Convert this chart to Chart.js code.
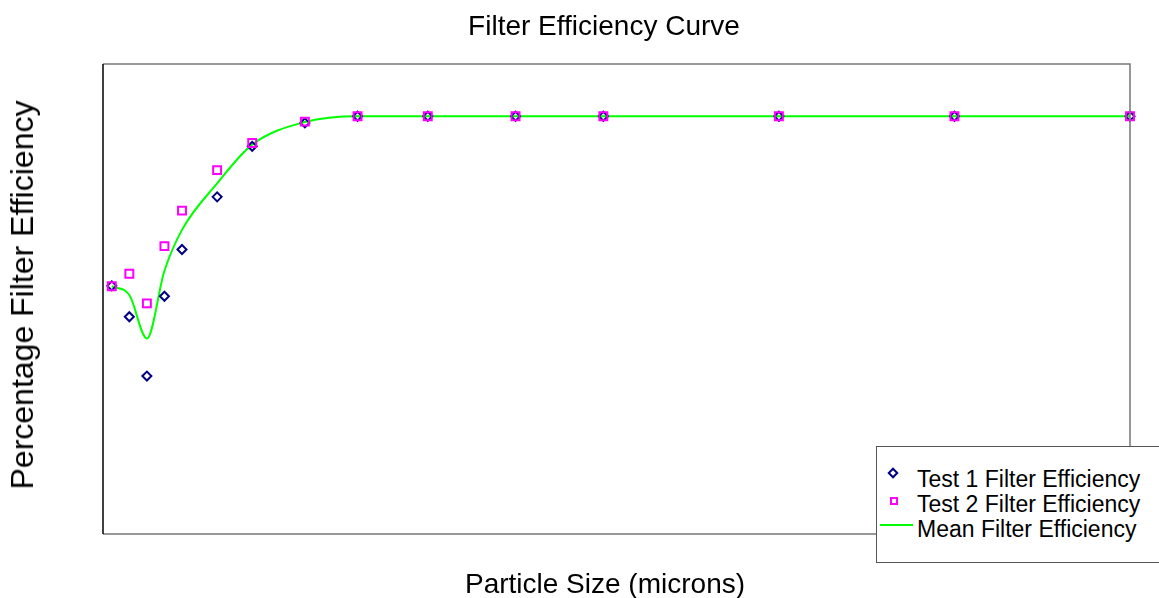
<!DOCTYPE html>
<html lang="en">
<head>
    <meta charset="UTF-8">
    <title>Filter Efficiency Curve</title>
    <script src="https://cdn.jsdelivr.net/npm/chart.js"></script>
    <style>
        body { margin: 0; overflow: hidden; background: #fff; font-family: "Liberation Sans", Arial, sans-serif; }
        #wrap { position: relative; width: 1159px; height: 598px; }
        .lbl { position: absolute; white-space: nowrap; color: #000; }
        #title { left: 604px; top: 12px; font-size: 28px; line-height: 28px; transform: translateX(-50%); }
        #xlabel { left: 605px; top: 570px; font-size: 28px; line-height: 28px; transform: translateX(-50%); }
        #ylabel { left: 22px; top: 295px; font-size: 32px; line-height: 32px; transform: translate(-50%, -50%) rotate(-90deg); }
        #legend { position: absolute; left: 876px; top: 446px; width: 300px; height: 115px; border: 1px solid #555; background: #fff; }
        #legend .txt { position: absolute; left: 40px; top: 20px; font-size: 23px; line-height: 25px; }
        .diamond { position: absolute; left: 12px; top: 22px; width: 4px; height: 4px; border: 2px solid #000080; transform: rotate(45deg); }
        .square { position: absolute; left: 13px; top: 50px; width: 4px; height: 4px; border: 2px solid #ff00ff; }
        .line { position: absolute; left: 3px; top: 77px; width: 33px; height: 2px; background: #00ff00; }
    </style>
</head>
<body>
<div id="wrap">
    <canvas id="effChart"></canvas>
    <div class="lbl" id="title">Filter Efficiency Curve</div>
    <div class="lbl" id="xlabel">Particle Size (microns)</div>
    <div class="lbl" id="ylabel">Percentage Filter Efficiency</div>
    <div id="legend">
        <div class="diamond"></div>
        <div class="square"></div>
        <div class="line"></div>
        <div class="txt">Test 1 Filter Efficiency<br>Test 2 Filter Efficiency<br>Mean Filter Efficiency</div>
    </div>
</div>

<script>
    // particle sizes (microns)
    const sizes = [0.3, 0.4, 0.5, 0.6, 0.7, 0.9, 1.1, 1.4, 1.7, 2.1, 2.6, 3.1, 4.1, 5.1, 6.1];
    // efficiency (%)
    const test1 = [59.4, 52.0, 37.8, 56.9, 68.1, 80.7, 92.8, 98.4, 100, 100, 100, 100, 100, 100, 100];
    const test2 = [59.3, 62.3, 55.2, 68.9, 77.4, 87.1, 93.6, 98.7, 100, 100, 100, 100, 100, 100, 100];
    const mean  = [59.3, 57.2, 46.8, 63.0, 72.8, 83.9, 93.2, 98.6, 100, 100, 100, 100, 100, 100, 100];

    const toXY = vals => sizes.map((s, i) => ({ x: s, y: vals[i] }));

    // frame around the plot area (darker on left, grey elsewhere)
    const frame = {
        id: 'frame',
        afterDraw(chart) {
            const { ctx, chartArea: a } = chart;
            ctx.save();
            ctx.lineWidth = 1.5;
            ctx.strokeStyle = '#777';
            ctx.beginPath();
            ctx.moveTo(a.left, a.top); ctx.lineTo(a.right, a.top); ctx.lineTo(a.right, a.bottom); ctx.lineTo(a.left, a.bottom);
            ctx.stroke();
            ctx.strokeStyle = '#000';
            ctx.beginPath();
            ctx.moveTo(a.left, a.top); ctx.lineTo(a.left, a.bottom);
            ctx.stroke();
            ctx.restore();
        }
    };

    new Chart(document.getElementById('effChart'), {
        type: 'line',
        data: {
            datasets: [
                {
                    label: 'Test 1 Filter Efficiency',
                    data: toXY(test1),
                    showLine: false,
                    pointStyle: 'rectRot',
                    pointRadius: 4.5,
                    pointBorderWidth: 2,
                    borderColor: '#000080',
                    pointBackgroundColor: 'rgba(0,0,0,0)',
                    clip: false,
                    order: 1
                },
                {
                    label: 'Test 2 Filter Efficiency',
                    data: toXY(test2),
                    showLine: false,
                    pointStyle: 'rect',
                    pointRadius: 5.6,
                    pointBorderWidth: 2,
                    borderColor: '#ff00ff',
                    pointBackgroundColor: 'rgba(0,0,0,0)',
                    clip: false,
                    order: 0
                },
                {
                    label: 'Mean Filter Efficiency',
                    data: toXY(mean),
                    borderColor: '#00ff00',
                    borderWidth: 2,
                    pointRadius: 0,
                    tension: 0.4,
                    cubicInterpolationMode: 'monotone',
                    fill: false,
                    clip: false,
                    order: 2
                }
            ]
        },
        options: {
            responsive: true,
            maintainAspectRatio: false,
            animation: false,
            layout: { padding: { left: 103, right: 29, top: 64, bottom: 64 } },
            plugins: {
                legend: { display: false },
                tooltip: { enabled: false }
            },
            scales: {
                x: { type: 'linear', min: 0.25, max: 6.1, display: false },
                y: { min: 0, max: 112.5, display: false }
            }
        },
        plugins: [frame]
    });
</script>
</body>
</html>
